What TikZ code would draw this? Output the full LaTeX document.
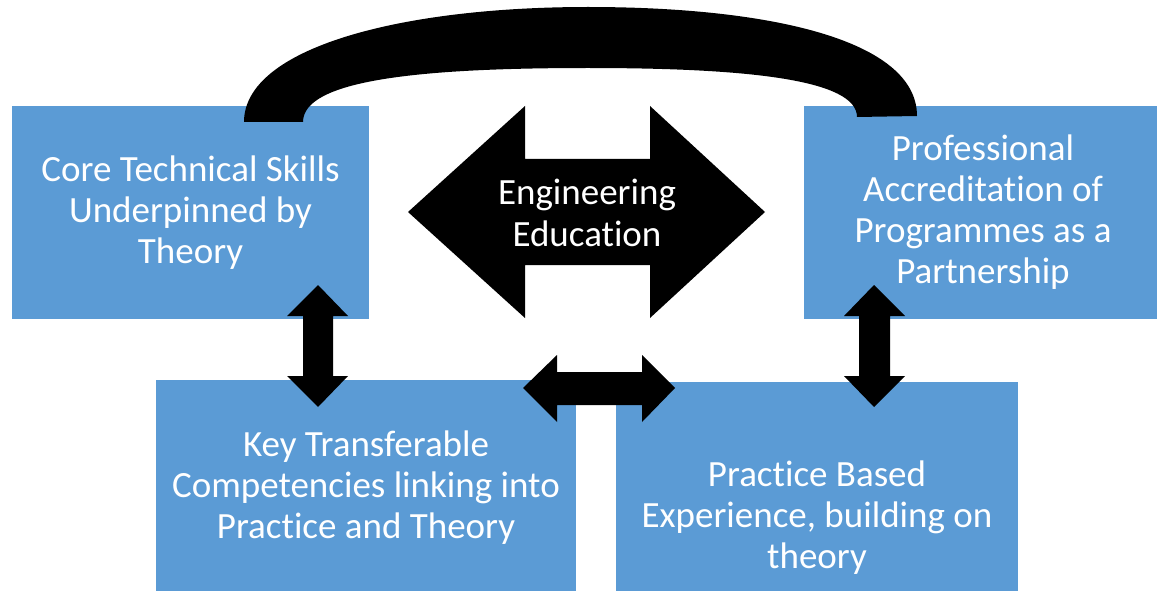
\documentclass[tikz,border=0pt]{standalone}
\usepackage{fontspec}
\setmainfont[Ligatures=NoCommon]{Carlito}
\definecolor{boxblue}{HTML}{5B9BD5}
\begin{document}
\begin{tikzpicture}[x=1pt,y=-1pt,
  box/.style={fill=boxblue, draw=none, inner sep=0pt, outer sep=0pt},
  lbl/.style={text=white, align=center, font=\fontsize{37}{41}\selectfont, inner sep=0pt},
  blockarrow/.style={fill=black, draw=none}]
\useasboundingbox (0,0) rectangle (1157,591);
\fill[white] (0,0) rectangle (1157,591);
% boxes
\node[box, minimum width=357pt, minimum height=213pt] (A) at (190.5,212.5) {};
\node[box, minimum width=354pt, minimum height=213pt] (B) at (981,212.5) {};
\node[box, minimum width=420pt, minimum height=212pt] (C) at (366,486) {};
\node[box, minimum width=402pt, minimum height=210pt] (D) at (817,487) {};
% labels
\node[lbl] (tA) at (190.5,213) {Core Technical Skills\\Underpinned by\\Theory};
\node[lbl] (tB) at (983,212) {Professional\\Accreditation of\\Programmes as a\\Partnership};
\node[lbl] (tC) at (366,488) {Key Transferable\\Competencies linking into\\Practice and Theory};
\node[lbl] (tD) at (817,518) {Practice Based\\Experience, building on\\theory};
% arch connecting A and B
\fill[blockarrow] (244,122) .. controls (244,48) and (400,7) .. (588,7)
  .. controls (770,7) and (917,40) .. (917,116) -- (857,117)
  .. controls (857,80) and (750,68) .. (588,68)
  .. controls (420,68) and (303,80) .. (303,122) -- cycle;
% big double arrow
\fill[blockarrow] (408,212) -- (525,106) -- (525,159) -- (650,159) -- (650,106)
  -- (765,212) -- (650,318) -- (650,265) -- (525,265) -- (525,318) -- cycle;
\node[text=white, align=center, font=\fontsize{37}{42}\selectfont, inner sep=0pt] (E) at (587,213) {Engineering\\Education};
% left vertical double arrow (A <-> C)
\fill[blockarrow] (318,285) -- (348,316) -- (333,316) -- (333,376) -- (348,376)
  -- (318,407) -- (287,376) -- (303,376) -- (303,316) -- (287,316) -- cycle;
% right vertical double arrow (B <-> D)
\fill[blockarrow] (874,285) -- (905,316) -- (890,316) -- (890,376) -- (905,376)
  -- (874,407) -- (844,376) -- (859,376) -- (859,316) -- (844,316) -- cycle;
% middle horizontal double arrow (C <-> D)
\fill[blockarrow] (523,388) -- (557,355) -- (557,372) -- (642,372) -- (642,355)
  -- (675,388) -- (642,422) -- (642,405) -- (557,405) -- (557,422) -- cycle;
\end{tikzpicture}
\end{document}
